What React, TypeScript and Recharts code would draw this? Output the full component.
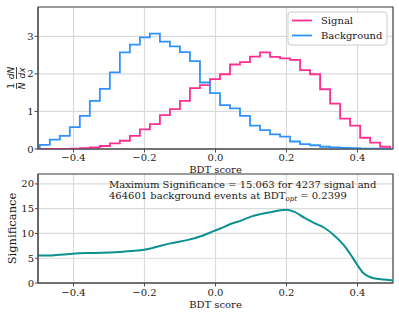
import React from "react";
import {
  ComposedChart,
  Line,
  XAxis,
  YAxis,
  CartesianGrid,
  ReferenceArea,
} from "recharts";

const FONT = "'DejaVu Serif', serif";
const PINK = "#ff2e93";
const BLUE = "#2f93ff";
const TEAL = "#0c9090";
const GRID = "#dadada";
const SPINE = "#4a4a4a";

// histogram binning (35 bins) and normalised densities
const binLo = -0.495;
const binHi = 0.492;
const signal = [
  0.0, 0.0, 0.005, 0.01, 0.02, 0.04, 0.08, 0.15, 0.22, 0.35, 0.52, 0.66, 0.9,
  1.06, 1.28, 1.62, 1.7, 1.86, 1.99, 2.25, 2.31, 2.46, 2.57, 2.45, 2.41, 2.37,
  2.1, 1.99, 1.59, 1.21, 0.81, 0.62, 0.3, 0.17, 0.06,
];
const background = [
  0.11, 0.25, 0.35, 0.58, 0.88, 1.28, 1.6, 2.04, 2.57, 2.78, 2.97, 3.07, 2.86,
  2.73, 2.58, 2.34, 1.77, 1.49, 1.17, 1.08, 0.88, 0.62, 0.5, 0.39, 0.33, 0.2,
  0.13, 0.1, 0.06, 0.04, 0.03, 0.02, 0.01, 0.01, 0.005,
];

// significance scan
const sigX = [
  -0.5, -0.46, -0.44, -0.41, -0.36, -0.32, -0.27, -0.22, -0.19, -0.165, -0.13,
  -0.08, -0.035, -0.014, 0.003, 0.014, 0.042, 0.07, 0.1, 0.127, 0.155, 0.183,
  0.2, 0.221, 0.25, 0.277, 0.305, 0.333, 0.362, 0.38, 0.4, 0.418, 0.446, 0.474,
  0.5,
];
const sigY = [
  5.55, 5.55, 5.7, 5.87, 6.05, 6.1, 6.28, 6.55, 6.85, 7.3, 7.95, 8.65, 9.6,
  10.2, 10.7, 11.0, 11.9, 12.55, 13.4, 13.9, 14.3, 14.7, 14.8, 14.4, 13.2,
  12.15, 11.2, 9.7, 7.6, 5.8, 3.6, 1.9, 0.95, 0.7, 0.5,
];

const xTicks = [-0.4, -0.2, 0, 0.2, 0.4];
const histTicks = [0, 1, 2, 3];
const sigTicks = [0, 5, 10, 15, 20];

const binW = (binHi - binLo) / signal.length;
const histData = [{ x: binLo, s: 0, b: 0 }];
signal.forEach((v, i) => {
  histData.push({ x: binLo + i * binW, s: v, b: background[i] });
});
histData.push({ x: binHi, s: 0, b: 0 });

const sigData = sigX.map((x, i) => ({ x, y: sigY[i] }));

const fmtX = (v: number) =>
  v === 0 ? "0.0" : v.toFixed(1).replace("-", "\u2212");

const tickStyle = { fill: "#1a1a1a", fontSize: 10, fontFamily: FONT };

const legendItems = [
  { name: "Signal", color: PINK },
  { name: "Background", color: BLUE },
];

// legend box drawn in the top-right corner of the histogram panel
const histLegend = (props: any) => {
  const vb = props.viewBox;
  const x0 = vb.x + vb.width - 105;
  const y0 = vb.y + 5;
  return (
    <g>
      <rect
        x={x0}
        y={y0}
        width={99}
        height={33}
        rx={3}
        fill="#ffffff"
        fillOpacity={0.85}
        stroke="#cccccc"
      />
      {legendItems.map((it, i) => (
        <g key={it.name}>
          <line
            x1={x0 + 4}
            x2={x0 + 24}
            y1={y0 + 8.5 + i * 15}
            y2={y0 + 8.5 + i * 15}
            stroke={it.color}
            strokeWidth={1.8}
          />
          <text
            x={x0 + 33}
            y={y0 + 12 + i * 15}
            fontFamily={FONT}
            fontSize={10}
            fill="#1a1a1a"
          >
            {it.name}
          </text>
        </g>
      ))}
    </g>
  );
};

const xLabel = (dy: number) => (props: any) => {
  const vb = props.viewBox;
  return (
    <text
      x={vb.x + vb.width / 2}
      y={vb.y + dy}
      textAnchor="middle"
      fontFamily={FONT}
      fontSize={10}
      fill="#1a1a1a"
    >
      BDT score
    </text>
  );
};

const densityLabel = (props: any) => {
  const vb = props.viewBox;
  const cy = vb.y + vb.height / 2;
  const m = { fontFamily: "'DejaVu Sans', sans-serif", fontSize: 9, fill: "#1a1a1a" };
  return (
    <g transform={`translate(16, ${cy}) rotate(-90)`}>
      <text x={-8} y={-2} textAnchor="middle" {...m}>1</text>
      <line x1={-11} x2={-5} y1={0.5} y2={0.5} stroke="#1a1a1a" strokeWidth={0.8} />
      <text x={-8} y={8.5} textAnchor="middle" fontStyle="italic" {...m}>N</text>
      <text x={5} y={-2} textAnchor="middle" fontStyle="italic" {...m}>dN</text>
      <line x1={-1} x2={11} y1={0.5} y2={0.5} stroke="#1a1a1a" strokeWidth={0.8} />
      <text x={5} y={8.5} textAnchor="middle" fontStyle="italic" {...m}>dx</text>
    </g>
  );
};

const sigLabel = (props: any) => {
  const vb = props.viewBox;
  const cy = vb.y + vb.height / 2;
  return (
    <text
      transform={`translate(12, ${cy}) rotate(-90)`}
      textAnchor="middle"
      dominantBaseline="central"
      fontFamily={FONT}
      fontSize={11.5}
      fill="#1a1a1a"
    >
      Significance
    </text>
  );
};

const annotation = (props: any) => {
  const vb = props.viewBox;
  const x = vb.x + 71;
  const y = vb.y + 14;
  return (
    <text fontFamily={FONT} fontSize={10} fill="#1a1a1a">
      <tspan x={x} y={y}>Maximum Significance = 15.063 for 4237 signal and</tspan>
      <tspan x={x} y={y + 10.7}>464601 background events at BDT</tspan>
      <tspan fontSize={7} fontStyle="italic" dy={2}>opt</tspan>
      <tspan dy={-2}> = 0.2399</tspan>
    </text>
  );
};

export default function App() {
  return (
    <div
      style={{
        position: "absolute",
        left: 0,
        top: 0,
        width: 399,
        height: 314,
        background: "#fff",
        fontFamily: FONT,
      }}
    >
      <div style={{ position: "absolute", left: 0, top: 0 }}>
        <ComposedChart
          width={399}
          height={178}
          data={histData}
          margin={{ top: 7, right: 6, bottom: 0, left: 0 }}
          style={{ fontFamily: FONT }}
        >
          <CartesianGrid stroke={GRID} strokeWidth={1.2} />
          <XAxis
            type="number"
            dataKey="x"
            domain={[-0.5, 0.5]}
            ticks={xTicks}
            tickFormatter={fmtX}
            allowDataOverflow
            height={29}
            tickSize={3.5}
            tickMargin={1}
            stroke={SPINE}
            tick={tickStyle}
            label={{ content: xLabel(24) }}
          />
          <YAxis
            type="number"
            domain={[0, 3.78]}
            ticks={histTicks}
            allowDataOverflow
            width={38}
            tickSize={3.5}
            tickMargin={1}
            stroke={SPINE}
            tick={tickStyle}
            label={{ content: densityLabel }}
          />
          <Line
            dataKey="s"
            name="Signal"
            type="stepAfter"
            stroke={PINK}
            strokeWidth={1.8}
            dot={false}
            isAnimationActive={false}
          />
          <Line
            dataKey="b"
            name="Background"
            type="stepAfter"
            stroke={BLUE}
            strokeWidth={1.8}
            dot={false}
            isAnimationActive={false}
          />
          <ReferenceArea
            x1={-0.5}
            x2={0.5}
            y1={0}
            y2={3.78}
            fill="none"
            stroke={SPINE}
            strokeWidth={1.2}
            ifOverflow="visible"
            label={{ content: histLegend }}
          />
        </ComposedChart>
      </div>
      <div style={{ position: "absolute", left: 0, top: 160 }}>
        <ComposedChart
          width={399}
          height={154}
          data={sigData}
          margin={{ top: 14, right: 6, bottom: 0, left: 0 }}
          style={{ fontFamily: FONT }}
        >
          <CartesianGrid stroke={GRID} strokeWidth={1.2} />
          <XAxis
            type="number"
            dataKey="x"
            domain={[-0.5, 0.5]}
            ticks={xTicks}
            tickFormatter={fmtX}
            allowDataOverflow
            height={31}
            tickSize={3.5}
            tickMargin={2.7}
            stroke={SPINE}
            tick={tickStyle}
            label={{ content: xLabel(24.5) }}
          />
          <YAxis
            type="number"
            domain={[0, 22]}
            ticks={sigTicks}
            allowDataOverflow
            width={38}
            tickSize={3}
            tickMargin={1}
            stroke={SPINE}
            tick={tickStyle}
            label={{ content: sigLabel }}
          />
          <Line
            dataKey="y"
            type="monotone"
            stroke={TEAL}
            strokeWidth={2}
            dot={false}
            isAnimationActive={false}
          />
          <ReferenceArea
            x1={-0.5}
            x2={0.5}
            y1={0}
            y2={22}
            fill="none"
            stroke={SPINE}
            strokeWidth={1.2}
            ifOverflow="visible"
            label={{ content: annotation }}
          />
        </ComposedChart>
      </div>
    </div>
  );
}
